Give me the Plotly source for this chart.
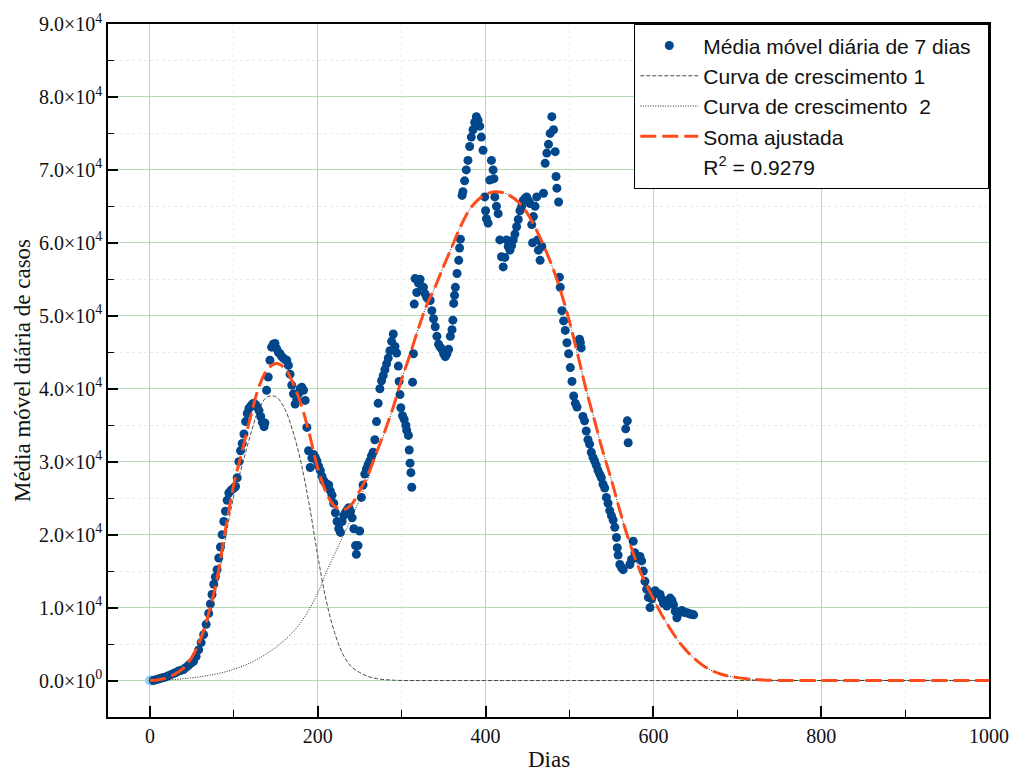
import plotly.graph_objects as go

# ---- observed data: 7-day moving average (day, cases) ----
days = [0, 2, 4, 7, 10, 13, 16, 19, 22, 25, 28, 31, 34, 37, 40, 43, 46, 49, 52, 55, 58, 61, 64, 67, 70,
        72, 74, 76, 78, 80, 82, 84, 86, 88, 90, 92, 94, 96, 98, 100, 102, 104, 106, 108, 110, 112, 114,
        116, 118, 120, 122, 124, 126, 128, 130, 132, 134, 136, 137, 139, 141, 143, 145, 147, 149, 151,
        153, 155, 157, 159, 161, 163, 165, 167, 169, 171, 173, 175, 177, 179, 181, 183, 185, 187, 189,
        191, 193, 195, 197, 199, 201, 203, 205, 207, 209, 211, 213, 215, 217, 219, 221, 223, 225, 227,
        229, 231, 233, 235, 237, 239, 241, 243, 245, 246, 248, 250, 252, 254, 256, 258, 260, 262, 264,
        266, 268, 270, 272, 274, 276, 278, 280, 282, 284, 286, 288, 290, 292, 294, 296, 297, 298, 299,
        301, 303, 305, 306, 308, 309, 310, 311, 312, 313, 314, 315, 316, 318, 320, 322, 324, 326, 328,
        330, 332, 334, 336, 338, 340, 342, 344, 346, 348, 350, 352, 354, 356, 358, 360, 361, 362, 363,
        364, 366, 368, 369, 370, 372, 373, 375, 377, 379, 381, 383, 385, 387, 389, 391, 393, 395, 397,
        399, 400, 401, 403, 405, 407, 409, 410, 411, 413, 415, 417, 419, 421, 423, 425, 427, 429, 431,
        433, 435, 437, 439, 441, 443, 445, 447, 449, 451, 453, 455, 456, 457, 459, 461, 462, 463, 465,
        467, 469, 471, 473, 475, 477, 479, 481, 483, 484, 485, 487, 488, 489, 491, 493, 495, 497, 499,
        501, 503, 505, 507, 509, 511, 512, 513, 514, 516, 518, 520, 522, 524, 526, 528, 530, 532, 534,
        536, 538, 540, 542, 544, 546, 548, 550, 552, 554, 556, 557, 558, 560, 562, 564, 567, 569, 570,
        572, 574, 576, 578, 580, 582, 584, 586, 588, 590, 592, 594, 596, 598, 600, 602, 604, 606, 608,
        610, 612, 614, 616, 618, 620, 622, 624, 626, 628, 630, 632, 634, 636, 638, 640, 642, 644, 646,
        648]
cases = [0, 0, 0, 100, 200, 300, 400, 500, 650, 800, 950, 1100, 1300, 1400, 1500, 1800, 2100, 2400,
         2650, 3300, 4200, 5200, 6300, 7700, 9200,
         10500, 11800, 13200, 14200, 15200, 16800, 18300, 20000, 21800, 23200, 24700, 25700, 26000,
         26200, 26400, 26600, 27800, 30000, 31500, 32500, 33800, 35500,
         36600, 37300, 37600, 37900, 38000, 37800, 37500, 37000, 36200, 35400, 34800, 35300, 39800,
         41600, 43900, 45700, 46100, 46200, 45500,
         45000, 44800, 44400, 44200, 44000, 43900, 43200, 42000, 40500, 39300, 37900, 38500, 39300,
         40000, 40200, 39800, 38400, 34700, 31500,
         29200, 30500, 31000, 30600, 30100, 29400, 28800, 28000, 27400, 27100, 26900, 26800, 26000,
         25400, 24300, 23000, 21800, 20800, 20300,
         21800, 22600, 23000, 23400, 23700, 23200, 22300, 20800, 18500, 17300, 18500, 20500, 25100,
         26800, 28300, 29000, 29600, 30100, 30800,
         31300, 33000, 35500, 38000, 40000, 41100, 41800, 42600, 43400, 44200, 45200, 46500, 47500,
         45800, 44900, 43100, 41000, 39200, 37400,
         36300, 35800, 35000, 34300, 33600, 31600, 29800, 28500, 26500, 40900, 44800, 51600, 55100,
         53200, 54500, 55000, 54000, 53900, 53000,
         52500, 52300, 52100, 50700, 49600, 48500, 47200, 46100, 45700, 45400, 44800, 44400, 44800,
         45400, 47200, 48100, 49400, 51700, 52800,
         53900, 55800, 57600, 59300, 60500, 66500, 67000, 68500, 70000, 71300, 73200, 74500, 75500,
         76500, 77300, 76800, 76000, 74500, 72700,
         66300, 64400, 63300, 62700, 68600, 71300, 70000, 68800, 66300, 65000, 64000, 60400, 58100,
         56700, 58000, 60400, 59500, 59000, 59600,
         60400, 61200, 62200, 63200, 64400, 65000, 65800, 66100, 66300, 65800, 65400, 62500, 60000,
         63600, 65000, 66300, 60400, 59000, 57600,
         59500, 66800, 70900, 72300, 73500, 75000, 77300, 75500, 72500, 69100, 67500, 65600, 55300,
         53900, 50700, 49300, 48000, 46300, 44800,
         42900, 41000, 39000, 38000, 37500, 46200, 46800, 46300, 45600, 36200, 35600, 34200, 33000,
         32400, 31300, 30600, 30100, 29500, 28800,
         28300, 27800, 26900, 26400, 25100, 24300, 23300, 22600, 22000, 21000, 19600, 18200, 17200,
         15900, 15500, 15200, 34500, 35600, 32600,
         15900, 16600, 19100, 17500, 16800, 16900, 17000, 16400, 15000, 13600, 12500, 11400, 10000,
         11200, 12000, 12300, 12000, 11900, 11800,
         11200, 10600, 10900, 10200, 10800, 11300, 11000, 10400, 9500, 8600, 9200, 9500, 9600, 9400,
         9300, 9300, 9200, 9100, 9100,
         9000]
n_start = 2  # first points drawn in light blue

# ---- fitted curves ----
fit_days = [0, 10, 20, 30, 40, 50, 60, 70, 80, 90, 100, 110, 120, 130, 140, 150, 160, 170, 180, 190,
            200, 210, 220, 230, 240, 250, 260, 270, 280, 290, 300, 310, 320, 330, 340, 350, 360, 370,
            380, 390, 400, 410, 420, 430, 440, 450, 460, 470, 480, 490, 500, 510, 520, 530, 540, 550,
            560, 570, 580, 590, 600, 610, 620, 630, 640, 650, 660, 670, 680, 690, 700, 710, 720, 730,
            740, 750, 760, 800, 900, 1000]
curve1 = [0, 70, 290, 750, 1450, 2830, 5080, 8500, 13080, 19500, 25350, 29550, 33750, 37250, 38900,
          38900, 37400, 34300, 29900, 24000, 17100, 11000, 6600, 3600, 1900, 1100, 550, 270, 120, 50,
          0, 0, 0, 0, 0, 0, 0, 0, 0, 0, 0, 0, 0, 0, 0, 0, 0, 0, 0, 0, 0, 0, 0, 0, 0, 0, 0, 0, 0, 0,
          0, 0, 0, 0, 0, 0, 0, 0, 0, 0, 0, 0, 0, 0, 0, 0, 0, 0, 0, 0]
curve2 = [0, 30, 80, 150, 250, 370, 520, 700, 920, 1200, 1550, 1950, 2450, 3050, 3750, 4550, 5500,
          6600, 8000, 9800, 12000, 14800, 17300, 19800, 22200, 24900, 27700, 31000, 34100, 37450,
          41300, 44700, 48300, 51500, 54000, 56800, 59500, 62200, 64400, 65800, 66600, 67000, 66900,
          66400, 65500, 64000, 61900, 59400, 56600, 53200, 49200, 44600, 39800, 35600, 31300, 27500,
          23300, 19500, 16200, 13500, 11200, 9000, 7100, 5400, 4000, 2900, 2000, 1350, 900, 600,
          400, 250, 150, 80, 40, 20, 0, 0, 0, 0]
fit_sum = [a + b for a, b in zip(curve1, curve2)]
r2_text = "R<sup>2</sup> = 0.9279"

# ---- axis ticks ----
x_ticks = [0, 200, 400, 600, 800, 1000]
x_minor = [100, 300, 500, 700, 900]
y_ticks = [0, 10000, 20000, 30000, 40000, 50000, 60000, 70000, 80000, 90000]
y_minor = [5000, 15000, 25000, 35000, 45000, 55000, 65000, 75000, 85000]
y_ticktext = ["0.0×10<sup>0</sup>", "1.0×10<sup>4</sup>", "2.0×10<sup>4</sup>", "3.0×10<sup>4</sup>",
              "4.0×10<sup>4</sup>", "5.0×10<sup>4</sup>", "6.0×10<sup>4</sup>", "7.0×10<sup>4</sup>",
              "8.0×10<sup>4</sup>", "9.0×10<sup>4</sup>"]

serif = "Times New Roman, Liberation Serif, serif"
sans = "Arial, Liberation Sans, sans-serif"
dark_blue = "#02478b"
pad = "\u00a0\u00a0"

fig = go.Figure()
fig.add_trace(go.Scatter(x=days[:n_start], y=cases[:n_start], mode="markers", showlegend=False,
                         marker=dict(size=10, color="#8fd0f5", line=dict(width=0))))
fig.add_trace(go.Scatter(x=days[n_start:], y=cases[n_start:], mode="markers",
                         name="Média móvel diária de 7 dias" + pad,
                         marker=dict(size=9, color=dark_blue, line=dict(width=0))))
fig.add_trace(go.Scatter(x=fit_days, y=curve1, mode="lines", name="Curva de crescimento 1",
                         line=dict(color="#4a4a4a", width=1, dash="4px,2px", shape="spline")))
fig.add_trace(go.Scatter(x=fit_days, y=curve2, mode="lines", name="Curva de crescimento  2",
                         line=dict(color="#222222", width=1, dash="1px,1.5px", shape="spline")))
fig.add_trace(go.Scatter(x=fit_days, y=fit_sum, mode="lines", name="Soma ajustada",
                         line=dict(color="#ff4a1a", width=3, dash="16px,6px", shape="spline")))
fig.add_trace(go.Scatter(x=[None], y=[None], mode="lines", name=r2_text,
                         line=dict(color="rgba(0,0,0,0)", width=0)))

grid_major = "#b2dbb2"
grid_minor = "#e2f1e2"

fig.update_layout(
    width=1013, height=773,
    margin=dict(l=108, r=24, t=24, b=56),
    paper_bgcolor="white", plot_bgcolor="white",
    showlegend=True,
    legend=dict(x=1, y=1, xanchor="right", yanchor="top",
                bgcolor="white", bordercolor="black", borderwidth=1.3,
                font=dict(family=sans, size=21, color="#111111"),
                itemwidth=58, tracegroupgap=0),
    xaxis=dict(range=[-50, 1000], tickvals=x_ticks, ticktext=[str(v) for v in x_ticks],
               automargin=False,
               ticks="inside", ticklen=11, tickwidth=1.6, tickcolor="black",
               showline=True, linecolor="black", linewidth=1.6, mirror=True,
               showgrid=True, gridcolor=grid_major, gridwidth=1, zeroline=False,
               minor=dict(tickvals=x_minor, ticks="inside", ticklen=7, tickwidth=1.3,
                          tickcolor="black", showgrid=True, gridcolor=grid_minor, griddash="dot"),
               tickfont=dict(family=serif, size=20, color="#111111")),
    yaxis=dict(range=[-5000, 90000], tickvals=y_ticks, ticktext=y_ticktext,
               automargin=False,
               ticks="inside", ticklen=10, tickwidth=1.6, tickcolor="black",
               showline=True, linecolor="black", linewidth=1.6, mirror=True,
               showgrid=True, gridcolor=grid_major, gridwidth=1, zeroline=False,
               minor=dict(tickvals=y_minor, ticks="inside", ticklen=6, tickwidth=1.3,
                          tickcolor="black", showgrid=True, gridcolor=grid_minor, griddash="dot"),
               tickfont=dict(family=serif, size=20, color="#111111"),
               title=dict(text="Média móvel diária de casos", font=dict(family=serif, size=23, color="#111111"),
                          standoff=2)),
    annotations=[dict(text="Dias", xref="paper", yref="paper", x=0.5, y=-0.062,
                      xanchor="center", yanchor="middle", showarrow=False,
                      font=dict(family=serif, size=23, color="#111111"))],
)

fig.write_html("out.html")
